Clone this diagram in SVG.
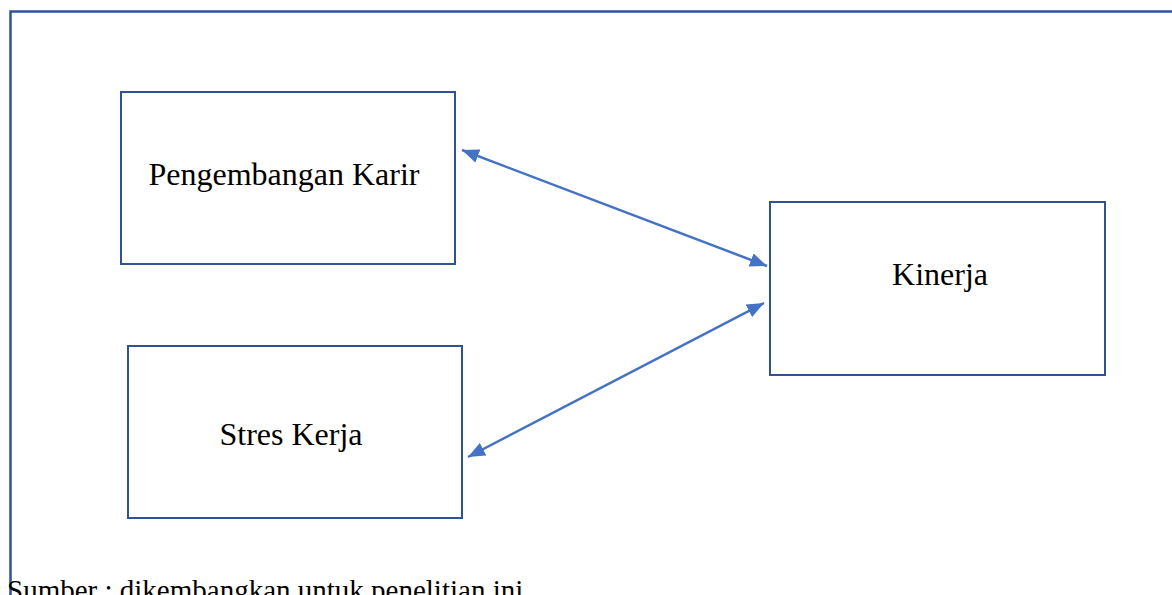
<svg xmlns="http://www.w3.org/2000/svg" width="1172" height="595" viewBox="0 0 1172 595">
<style>
.box{fill:#fff;stroke:#2F5496;stroke-width:2}
.lbl{font-family:"Liberation Serif","Times New Roman",serif;font-size:32px;fill:#000;text-anchor:middle}
.conn{stroke:#4472C4;stroke-width:2.5;fill:none;marker-start:url(#ah);marker-end:url(#ah)}
</style>
<defs>
<marker id="ah" viewBox="0 0 17 14" refX="17" refY="7" markerWidth="17" markerHeight="14" orient="auto-start-reverse" markerUnits="userSpaceOnUse">
<path d="M0,0 L17,7 L0,14 z" fill="#4472C4"/>
</marker>
</defs>
<rect width="1172" height="595" fill="#fff"/>
<path id="frame" d="M10.5,595 L10.5,11.5 L1172,11.5" fill="none" stroke="#2F5496" stroke-width="2.5"/>
<g id="node-pengembangan">
<rect class="box" x="121" y="92" width="334" height="172"/>
<text class="lbl" x="284" y="185">Pengembangan Karir</text>
</g>
<g id="node-stres">
<rect class="box" x="128" y="346" width="334" height="172"/>
<text class="lbl" x="291" y="445">Stres Kerja</text>
</g>
<g id="node-kinerja">
<rect class="box" x="770" y="202" width="335" height="173"/>
<text class="lbl" x="940" y="285">Kinerja</text>
</g>
<g id="connectors">
<line class="conn" x1="462" y1="150" x2="767" y2="266"/>
<line class="conn" x1="764" y1="303" x2="468" y2="457"/>
</g>
<text x="7" y="600" font-family="Liberation Serif, Times New Roman, serif" font-size="29" fill="#000">Sumber : dikembangkan untuk penelitian ini</text>
</svg>
